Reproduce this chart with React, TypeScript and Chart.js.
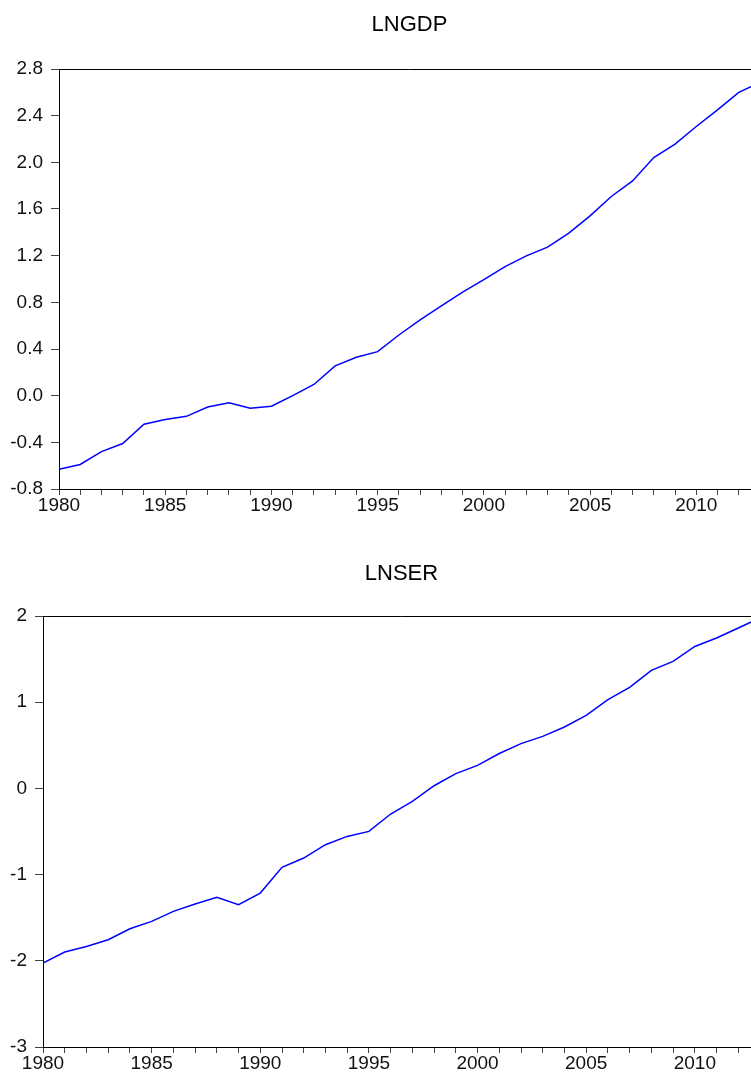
import React, { useEffect, useRef } from "react";
import { Chart, registerables } from "chart.js";

Chart.register(...registerables);

const years = [
  1980, 1981, 1982, 1983, 1984, 1985, 1986, 1987, 1988, 1989,
  1990, 1991, 1992, 1993, 1994, 1995, 1996, 1997, 1998, 1999,
  2000, 2001, 2002, 2003, 2004, 2005, 2006, 2007, 2008, 2009,
  2010, 2011, 2012, 2013,
];

const lngdp = [
  -0.63, -0.59, -0.48, -0.41, -0.245, -0.205, -0.177, -0.097, -0.06, -0.108,
  -0.091, 0.0, 0.096, 0.255, 0.329, 0.377, 0.52, 0.649, 0.769, 0.887,
  0.995, 1.106, 1.198, 1.273, 1.393, 1.541, 1.707, 1.841, 2.041, 2.156,
  2.307, 2.45, 2.6, 2.685,
];

const lnser = [
  -2.026, -1.898, -1.833, -1.755, -1.628, -1.543, -1.427, -1.341, -1.264, -1.349,
  -1.214, -0.916, -0.808, -0.653, -0.557, -0.499, -0.297, -0.151, 0.031, 0.171,
  0.267, 0.405, 0.519, 0.603, 0.712, 0.847, 1.029, 1.172, 1.369, 1.473,
  1.647, 1.745, 1.861, 1.977,
];

const gdpTicks = { min: -0.8, max: 2.8, step: 0.4, decimals: 1 };
const serTicks = { min: -3, max: 2, step: 1, decimals: 0 };

const FONT = "'Liberation Sans', Arial, sans-serif";

const topBorder = {
  id: "topBorder",
  afterDraw(chart: any) {
    const { ctx, chartArea } = chart;
    ctx.save();
    ctx.strokeStyle = "#000";
    ctx.lineWidth = 1;
    ctx.beginPath();
    const y = Math.round(chartArea.top) + 0.5;
    ctx.moveTo(chartArea.left, y);
    ctx.lineTo(chartArea.right, y);
    ctx.stroke();
    ctx.restore();
  },
};

type PanelProps = {
  title: string;
  values: number[];
  yt: { min: number; max: number; step: number; decimals: number };
  width: number;
  height: number;
  top: number;
  yAxisWidth: number;
  xAxisHeight: number;
  titlePadTop: number;
  titlePadBottom: number;
};

function Panel(p: PanelProps) {
  const ref = useRef<HTMLCanvasElement | null>(null);
  useEffect(() => {
    if (!ref.current) return;
    const chart = new Chart(ref.current, {
      type: "line",
      data: {
        datasets: [
          {
            data: years.map((y, i) => ({ x: y, y: p.values[i] })),
            borderColor: "#0000FF",
            borderWidth: 1.5,
            pointRadius: 0,
            tension: 0,
            fill: false,
          },
        ],
      },
      options: {
        animation: false,
        responsive: false,
        devicePixelRatio: 1,
        layout: { padding: 0 },
        plugins: {
          legend: { display: false },
          tooltip: { enabled: false },
          title: {
            display: true,
            text: p.title,
            fullSize: false,
            color: "#000",
            font: { family: FONT, size: 22, weight: "normal", lineHeight: 1.2 },
            padding: { top: p.titlePadTop, bottom: p.titlePadBottom },
          },
        },
        scales: {
          x: {
            type: "linear",
            min: years[0],
            max: years[years.length - 1],
            afterFit: (s: any) => {
              s.height = p.xAxisHeight;
            },
            grid: {
              display: true,
              drawOnChartArea: false,
              drawTicks: true,
              tickLength: 6,
              tickColor: "#444",
            },
            border: { display: true, color: "#000", width: 1 },
            ticks: {
              stepSize: 1,
              autoSkip: false,
              maxRotation: 0,
              minRotation: 0,
              padding: 1,
              color: "#111",
              font: { family: FONT, size: 19, lineHeight: 1 },
              callback: (v: any) => (Number(v) % 5 === 0 ? String(v) : ""),
            },
          },
          y: {
            type: "linear",
            min: p.yt.min,
            max: p.yt.max,
            afterFit: (s: any) => {
              s.width = p.yAxisWidth;
            },
            grid: {
              display: true,
              drawOnChartArea: false,
              drawTicks: true,
              tickLength: 8,
              tickColor: "#444",
            },
            border: { display: true, color: "#000", width: 1 },
            ticks: {
              stepSize: p.yt.step,
              padding: 8,
              color: "#111",
              font: { family: FONT, size: 19 },
              callback: (v: any) => {
                let n = Number(v);
                if (Math.abs(n) < 1e-9) n = 0;
                return n.toFixed(p.yt.decimals);
              },
            },
          },
        },
      },
      plugins: [topBorder],
    });
    return () => chart.destroy();
  }, []);
  return (
    <canvas
      ref={ref}
      width={p.width}
      height={p.height}
      style={{
        position: "absolute",
        left: 0,
        top: p.top,
        width: p.width,
        height: p.height,
      }}
    />
  );
}

export default function App() {
  return (
    <div
      style={{
        position: "fixed",
        left: 0,
        top: 0,
        width: 751,
        height: 1079,
        overflow: "hidden",
        background: "#fff",
      }}
    >
      <Panel
        title="LNGDP"
        values={lngdp}
        yt={gdpTicks}
        width={761}
        height={524}
        top={0}
        yAxisWidth={59}
        xAxisHeight={35}
        titlePadTop={12}
        titlePadBottom={30.6}
      />
      <Panel
        title="LNSER"
        values={lnser}
        yt={serTicks}
        width={761}
        height={555}
        top={524}
        yAxisWidth={43}
        xAxisHeight={32}
        titlePadTop={36.8}
        titlePadBottom={28.8}
      />
    </div>
  );
}
